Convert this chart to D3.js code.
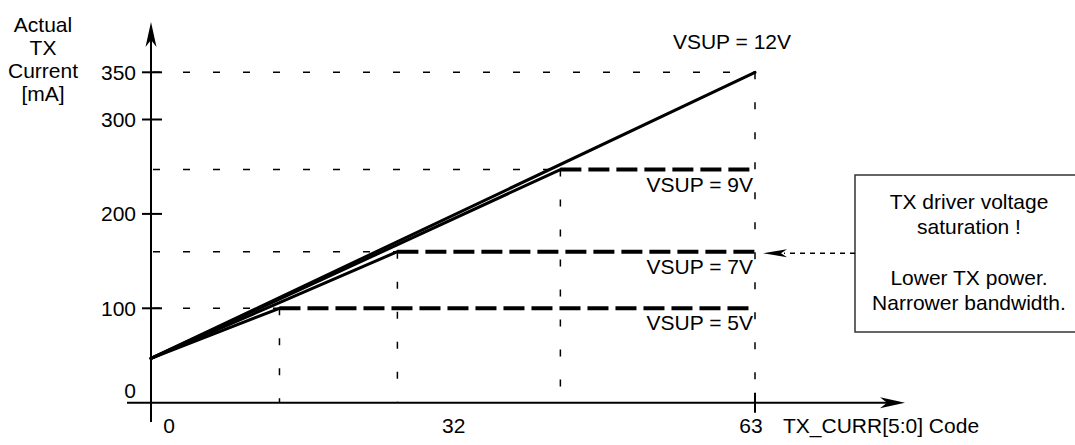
<!DOCTYPE html>
<html>
<head>
<meta charset="utf-8">
<script src="https://cdn.jsdelivr.net/npm/d3@7"></script>
<style>
body{margin:0;background:#fff}
svg{display:block;font-family:"Liberation Sans",Arial,sans-serif}
</style>
</head>
<body>
<svg id="chart"></svg>
<script>
const width = 1075, height = 445;

// values
const codeTicks = [0, 32, 63];
const currentTicks = [0, 100, 200, 300, 350];
const supplyLabels = ['VSUP = 5V', 'VSUP = 7V', 'VSUP = 9V', 'VSUP = 12V'];
const startCurrent = [47, 47, 47, 47];
const kneeCode = [13.4, 25.7, 42.7, 63];
const kneeCurrent = [100, 160, 247, 350];
const maxCode = 63;
const yTitle = ['Actual', 'TX', 'Current', '[mA]'];
const xTitle = 'TX_CURR[5:0] Code';
const noteLines = ['TX driver voltage', 'saturation !', '', 'Lower TX power.', 'Narrower bandwidth.'];

const x = d3.scaleLinear().domain([0, maxCode]).range([151, 755]);
const y = d3.scaleLinear().domain([0, 350]).range([402.7, 72.3]);

const svg = d3.select('#chart')
    .attr('width', width)
    .attr('height', height)
    .attr('viewBox', [0, 0, width, height]);

const x0 = x(0), y0 = y(0);

// thin dashed guides (horizontal to the knee, vertical down to the axis)
const guides = svg.append('g')
    .attr('fill', 'none')
    .attr('stroke', '#000')
    .attr('stroke-width', 1.5)
    .attr('stroke-dasharray', '7,23');

guides.selectAll('.hguide')
    .data(kneeCurrent)
    .enter().append('line')
    .attr('class', 'hguide')
    .attr('x1', x0 + 2)
    .attr('x2', (d, i) => x(kneeCode[i]))
    .attr('y1', d => y(d))
    .attr('y2', d => y(d));

guides.selectAll('.vguide')
    .data(kneeCode)
    .enter().append('line')
    .attr('class', 'vguide')
    .attr('x1', d => x(d))
    .attr('x2', d => x(d))
    .attr('y1', (d, i) => y(kneeCurrent[i]))
    .attr('y2', y0);

// thick dashed saturation levels
svg.append('g')
    .selectAll('line')
    .data(kneeCode.slice(0, 3))
    .enter().append('line')
    .attr('x1', d => x(d))
    .attr('x2', x(maxCode))
    .attr('y1', (d, i) => y(kneeCurrent[i]))
    .attr('y2', (d, i) => y(kneeCurrent[i]))
    .attr('stroke', '#000')
    .attr('stroke-width', 4)
    .attr('stroke-dasharray', '21,7');

// rising part of each curve
const line = d3.line().x(d => x(d[0])).y(d => y(d[1]));
svg.append('g')
    .selectAll('path')
    .data(supplyLabels.map((s, i) => [[0, startCurrent[i]], [kneeCode[i], kneeCurrent[i]]]))
    .enter().append('path')
    .attr('d', line)
    .attr('fill', 'none')
    .attr('stroke', '#000')
    .attr('stroke-width', 3)
    .attr('stroke-linecap', 'round');

// axes
const axes = svg.append('g').attr('stroke', '#000').attr('stroke-width', 2);
axes.append('line').attr('x1', 127).attr('x2', 893).attr('y1', y0).attr('y2', y0);
axes.append('line').attr('x1', x0).attr('x2', x0).attr('y1', 422).attr('y2', 40);

axes.selectAll('.ytick')
    .data(currentTicks.filter(d => d > 0))
    .enter().append('line')
    .attr('x1', x0 - 9).attr('x2', x0 + 11)
    .attr('y1', d => y(d)).attr('y2', d => y(d));

axes.append('line')
    .attr('x1', x(maxCode)).attr('x2', x(maxCode))
    .attr('y1', y0 - 10).attr('y2', y0 + 10);

// arrow heads
const head = 'M0,0 L-25,-5.5 L-18,0 L-25,5.5 Z';
svg.append('path').attr('d', head)
    .attr('transform', `translate(905,${y0})`);
svg.append('path').attr('d', head)
    .attr('transform', `translate(${x0},22) rotate(-90)`);

const txt = svg.append('g').attr('font-size', 21).attr('fill', '#000');

txt.selectAll('.ylab')
    .data(currentTicks)
    .enter().append('text')
    .attr('text-anchor', 'end')
    .attr('x', x0 - 15)
    .attr('y', d => d === 0 ? y0 - 5 : y(d) + 7.5)
    .text(d => d);

txt.selectAll('.xlab')
    .data(codeTicks)
    .enter().append('text')
    .attr('text-anchor', 'middle')
    .attr('x', d => x(d) + (d === 0 ? 18 : -4))
    .attr('y', 433)
    .text(d => d);

txt.append('text')
    .attr('x', x(maxCode) + 28)
    .attr('y', 433)
    .text(xTitle);

txt.selectAll('.ytitle')
    .data(yTitle)
    .enter().append('text')
    .attr('text-anchor', 'middle')
    .attr('x', 43)
    .attr('y', (d, i) => 31.5 + i * 23.3)
    .text(d => d);

txt.selectAll('.supply')
    .data(supplyLabels)
    .enter().append('text')
    .attr('text-anchor', (d, i) => i === 3 ? 'middle' : 'end')
    .attr('x', (d, i) => i === 3 ? x(maxCode) - 23 : x(maxCode) - 2)
    .attr('y', (d, i) => i === 3 ? y(kneeCurrent[i]) - 23 : y(kneeCurrent[i]) + 22)
    .text(d => d);

// note box and pointer
svg.append('rect')
    .attr('x', 855).attr('y', 175)
    .attr('width', 230).attr('height', 157)
    .attr('fill', 'none')
    .attr('stroke', '#333')
    .attr('stroke-width', 1.5);

txt.selectAll('.note')
    .data(noteLines)
    .enter().append('text')
    .attr('text-anchor', 'middle')
    .attr('x', 969)
    .attr('y', (d, i) => 209 + i * 25.3)
    .text(d => d);

const py = y(kneeCurrent[1]) + 1.5;
svg.append('line')
    .attr('x1', 855).attr('x2', 784)
    .attr('y1', py).attr('y2', py)
    .attr('stroke', '#000')
    .attr('stroke-width', 1.5)
    .attr('stroke-dasharray', '5,5');
svg.append('path')
    .attr('d', 'M0,0 L24,-4 L18,0 L24,4 Z')
    .attr('transform', `translate(763,${py})`);
</script>
</body>
</html>
